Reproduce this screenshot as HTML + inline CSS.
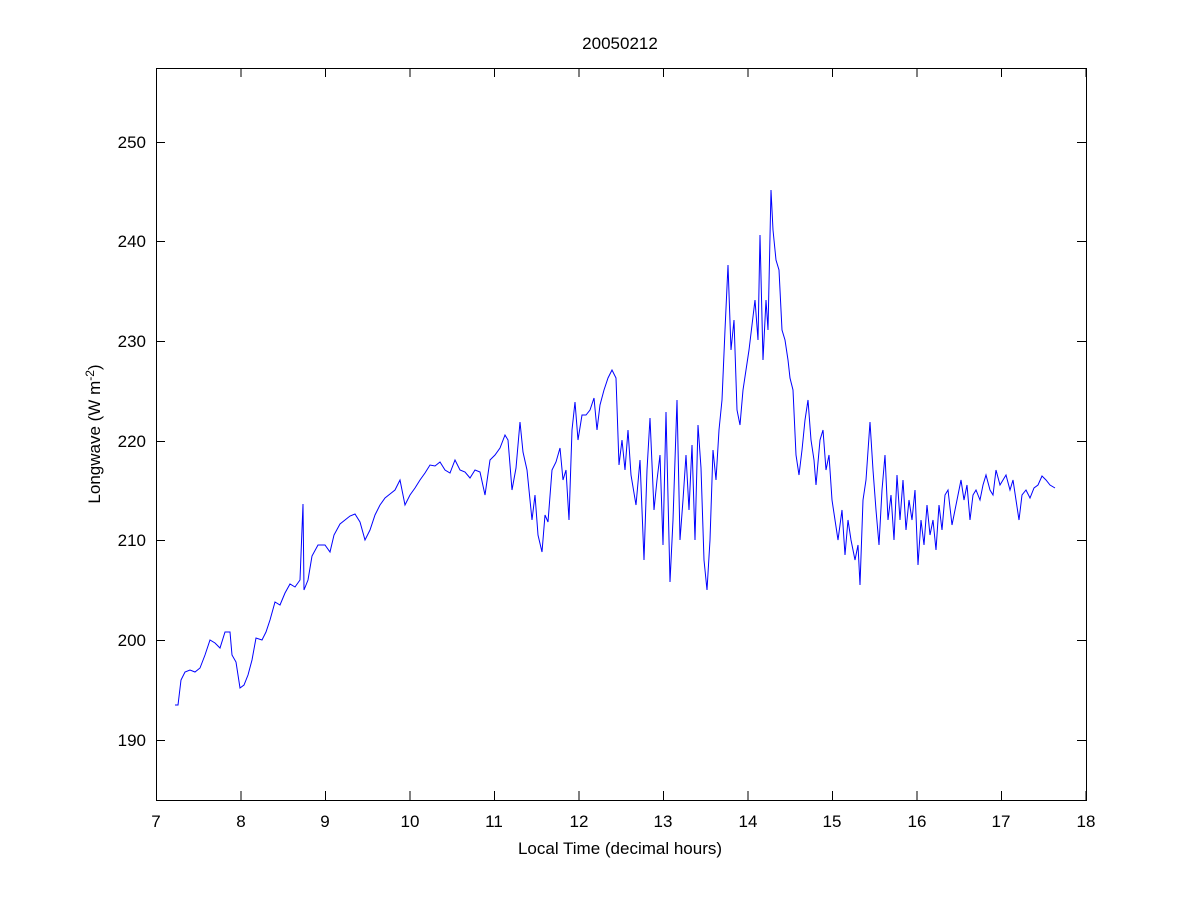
<!DOCTYPE html>
<html><head><style>body{margin:0;background:#fff}svg text{font-family:"Liberation Sans",sans-serif;font-size:17px;fill:#000}</style></head>
<body>
<svg width="1200" height="900" viewBox="0 0 1200 900" xmlns="http://www.w3.org/2000/svg">
<rect width="1200" height="900" fill="#fff"/>
<rect x="156.5" y="68.5" width="930" height="732" fill="none" stroke="#000" stroke-width="1"/>
<g stroke="#000" stroke-width="1">
<path d="M156.5 800v-9M241 800v-9M325.5 800v-9M410 800v-9M494.5 800v-9M579 800v-9M663.5 800v-9M748 800v-9M832.5 800v-9M917 800v-9M1001.5 800v-9M1086 800v-9"/>
<path d="M156.5 68v9M241 68v9M325.5 68v9M410 68v9M494.5 68v9M579 68v9M663.5 68v9M748 68v9M832.5 68v9M917 68v9M1001.5 68v9M1086 68v9"/>
<path d="M156 740.5h9M156 640.5h9M156 540.5h9M156 441.5h9M156 341.5h9M156 241.5h9M156 142.5h9"/>
<path d="M1086 740.5h-9M1086 640.5h-9M1086 540.5h-9M1086 441.5h-9M1086 341.5h-9M1086 241.5h-9M1086 142.5h-9"/>
</g>
<g text-anchor="middle">
<text x="156" y="827">7</text><text x="241" y="827">8</text><text x="325" y="827">9</text><text x="410" y="827">10</text><text x="494" y="827">11</text><text x="579" y="827">12</text><text x="663" y="827">13</text><text x="748" y="827">14</text><text x="832" y="827">15</text><text x="917" y="827">16</text><text x="1001" y="827">17</text><text x="1086" y="827">18</text>
<text x="620" y="854">Local Time (decimal hours)</text>
<text x="620" y="49">20050212</text>
</g>
<g text-anchor="end">
<text x="146" y="746">190</text><text x="146" y="646">200</text><text x="146" y="546">210</text><text x="146" y="447">220</text><text x="146" y="347">230</text><text x="146" y="247">240</text><text x="146" y="148">250</text>
</g>
<text transform="translate(100,434) rotate(-90)" text-anchor="middle">Longwave (W m<tspan dy="-6" font-size="12">-2</tspan><tspan dy="6">)</tspan></text>
<polyline fill="none" stroke="#0000ff" stroke-width="1" points="175,705 178,705 181,680 185,672 190,670 195,672 200,668 205,655 210,640 215,643 220,648 225,632 230,632 232,655 236,662 240,688 244,685 248,675 252,660 256,638 262,640 266,632 270,620 275,602 280,605 285,593 290,584 295,587 300,580 303,504 304,590 308,580 312,556 318,545 325,545 330,552 334,535 340,524 345,520 350,516 355,514 360,522 365,540 370,530 375,515 380,505 385,498 390,494 395,490 400,480 405,505 410,495 415,488 420,480 425,473 430,465 435,466 440,462 445,470 450,473 455,460 460,470 465,472 470,478 475,470 480,472 485,495 490,460 495,455 500,448 505,435 508,440 512,490 516,468 520,422 523,452 527,470 532,520 535,495 538,535 542,552 545,515 548,522 552,470 556,462 560,448 563,480 566,470 569,520 572,430 575,402 578,440 582,415 586,415 590,410 594,398 597,430 600,405 604,390 608,378 612,370 616,378 619,465 622,440 625,470 628,430 631,475 636,505 640,460 644,560 647,470 650,418 654,510 657,480 660,455 663,545 666,412 670,582 673,520 677,400 680,540 683,500 686,455 689,510 692,445 695,540 698,425 701,468 704,560 707,590 710,540 713,450 716,480 719,430 722,400 725,330 728,265 731,350 734,320 737,410 740,425 743,390 746,370 749,350 752,325 755,300 758,340 760,235 763,360 766,300 768,330 771,190 773,230 776,260 779,270 782,330 785,340 788,360 790,378 793,390 796,455 799,475 802,450 805,420 808,400 811,440 814,460 816,485 820,440 823,430 826,470 829,455 832,500 835,520 838,540 842,510 845,555 848,520 851,540 855,560 858,545 860,585 863,500 866,480 870,422 873,470 876,510 879,545 882,490 885,455 888,520 891,495 894,540 897,475 900,520 903,480 906,530 909,500 912,520 915,490 918,565 921,520 924,545 927,505 930,535 933,520 936,550 939,505 942,530 945,495 948,490 952,525 955,510 958,495 961,480 964,500 967,485 970,520 973,495 976,490 980,500 983,485 986,475 990,490 993,495 996,470 1000,485 1003,480 1006,475 1010,490 1013,480 1016,500 1019,520 1022,495 1026,490 1030,498 1034,488 1038,485 1042,476 1046,480 1050,485 1055,488"/>
</svg>
</body></html>
